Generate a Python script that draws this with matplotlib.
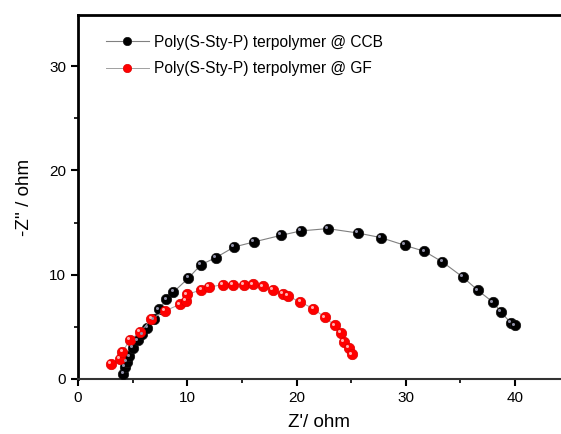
import matplotlib.pyplot as plt
import matplotlib.transforms as mtransforms
from matplotlib.ticker import MultipleLocator

plt.rcParams['font.family'] = ['Liberation Sans', 'DejaVu Sans']

# Nyquist data (Z' , -Z'')
ccb_zre = [4.16, 4.26, 4.48, 4.71, 5.04, 5.47, 5.89, 6.35, 6.94, 7.43, 8.09, 8.74,
           10.11, 11.26, 12.6, 14.3, 16.1, 18.6, 20.4, 22.85, 25.6, 27.7, 29.9,
           31.7, 33.35, 35.2, 36.6, 38.0, 38.7, 39.6, 40.0]
ccb_zim = [0.48, 1.12, 1.6, 2.15, 2.95, 3.69, 4.26, 4.9, 5.7, 6.67, 7.63, 8.33,
           9.68, 10.96, 11.63, 12.66, 13.14, 13.78, 14.2, 14.42, 14.0, 13.56, 12.82,
           12.24, 11.22, 9.78, 8.49, 7.34, 6.41, 5.38, 5.13]

gf_zre = [3.04, 3.86, 4.06, 4.75, 5.7, 6.71, 7.99, 9.33, 9.89, 10.0, 11.29, 12.01,
          13.26, 14.14, 15.2, 16.0, 16.9, 17.84, 18.72, 19.2, 20.36, 21.54, 22.6,
          23.5, 24.03, 24.35, 24.78, 25.1]
gf_zim = [1.41, 1.92, 2.56, 3.75, 4.49, 5.74, 6.54, 7.15, 7.5, 8.1, 8.56, 8.81,
          9.04, 9.04, 9.04, 9.07, 8.88, 8.56, 8.14, 7.95, 7.37, 6.73, 5.9,
          5.13, 4.39, 3.53, 3.01, 2.34]

labels = ["Poly(S-Sty-P) terpolymer @ CCB", "Poly(S-Sty-P) terpolymer @ GF"]

fig = plt.figure(figsize=(5.61, 4.34), dpi=100)
ax = fig.add_axes([0.139, 0.127, 0.861, 0.838])

# little white shine on the balls
shine = mtransforms.offset_copy(ax.transData, fig=fig, x=-1.3, y=1.3, units='points')

ax.plot(ccb_zre, ccb_zim, '-', color='#808080', lw=0.8, marker='o', ms=7.5,
        mfc='black', mec='#111111', mew=0.5, label=labels[0], zorder=3)
ax.plot(ccb_zre, ccb_zim, 'o', color='#9090a8', ms=2.2, mew=0, transform=shine, zorder=4)

ax.plot(gf_zre, gf_zim, '-', color='#a0a0a0', lw=0.7, marker='o', ms=7.5,
        mfc='#ff0000', mec='#dd0000', mew=0.5, label=labels[1], zorder=3)
ax.plot(gf_zre, gf_zim, 'o', color='#ffb0b0', ms=2.2, mew=0, transform=shine, zorder=4)

ax.set_xlim(0, 44.2)
ax.set_ylim(0, 34.9)
ax.xaxis.set_major_locator(MultipleLocator(10))
ax.xaxis.set_minor_locator(MultipleLocator(5))
ax.yaxis.set_major_locator(MultipleLocator(10))
ax.yaxis.set_minor_locator(MultipleLocator(5))
ax.tick_params(which='major', direction='out', length=5, width=1.5, labelsize=11)
ax.tick_params(which='minor', direction='out', length=3, width=1.2)

ax.spines['right'].set_visible(False)
ax.spines['top'].set_linewidth(2)
ax.spines['left'].set_linewidth(2)
ax.spines['bottom'].set_linewidth(1.5)
ax.spines['bottom'].set_color('#333333')

ax.set_xlabel("Z'/ ohm", fontsize=13.5, labelpad=7)
ax.set_ylabel("-Z'' / ohm", fontsize=13.5, labelpad=12)

ax.legend(loc='upper left', bbox_to_anchor=(0.028, 0.985), frameon=False,
          fontsize=11.2, handlelength=2.8, handletextpad=0.3, labelspacing=0.75,
          markerscale=0.8)

fig.savefig('out.png', dpi=100)
